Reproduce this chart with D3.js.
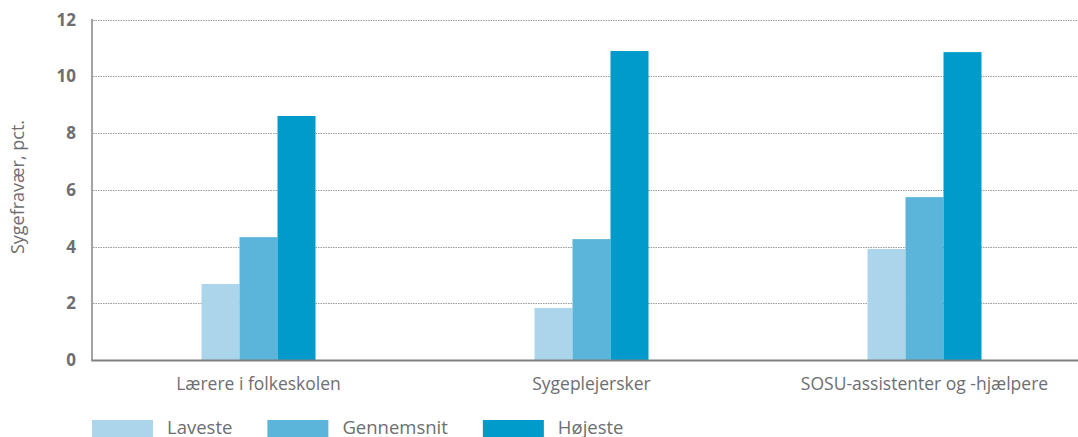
<!DOCTYPE html>
<html>
<head>
<meta charset="utf-8">
<script src="https://cdn.jsdelivr.net/npm/d3@7"></script>
<style>
  html, body { margin: 0; padding: 0; background: #fff; }
  svg { display: block; font-family: "Open Sans", "Noto Sans", sans-serif; }
</style>
</head>
<body>
<svg id="chart" width="1078" height="437"></svg>
<script>
// Sygefravær by occupation: lowest, average and highest municipality
const categories = ["Lærere i folkeskolen", "Sygeplejersker", "SOSU-assistenter og -hjælpere"];
const seriesNames = ["Laveste", "Gennemsnit", "Højeste"];
const laveste = [2.68, 1.83, 3.91];
const gennemsnit = [4.33, 4.26, 5.74];
const hoejeste = [8.6, 10.89, 10.85];
const yTicks = [0, 2, 4, 6, 8, 10, 12];
const yTitle = "Sygefravær, pct.";

const colors = ["#abd5ea", "#5bb4da", "#009bcb"];
const seriesValues = [laveste, gennemsnit, hoejeste];

const svg = d3.select("#chart");
const W = 1078;
const plotLeft = 92, plotTop = 19.5, plotBottom = 360, plotRight = 1091;

const x = d3.scaleBand().domain(categories).range([plotLeft, plotRight]);
const y = d3.scaleLinear().domain([0, 12]).range([plotBottom, plotTop]);
const barW = 38;
const inner = d3.scaleBand().domain(seriesNames)
  .range([-barW * 1.5, barW * 1.5]);

// dotted gridlines
svg.append("g").selectAll("line")
  .data(yTicks.filter(d => d > 0))
  .join("line")
  .attr("x1", plotLeft + 1).attr("x2", W)
  .attr("y1", d => Math.round(y(d)) + 0.5).attr("y2", d => Math.round(y(d)) + 0.5)
  .attr("stroke", "#9a9a9a").attr("stroke-width", 1)
  .attr("stroke-dasharray", "1.5,1");

// bars
const groups = svg.append("g").selectAll("g")
  .data(categories)
  .join("g")
  .attr("transform", d => `translate(${x(d) + x.bandwidth() / 2},0)`);

groups.selectAll("rect")
  .data((c, i) => seriesNames.map((s, j) => ({ s, v: seriesValues[j][i], j })))
  .join("rect")
  .attr("x", d => inner(d.s))
  .attr("width", inner.bandwidth())
  .attr("y", d => y(d.v))
  .attr("height", d => plotBottom - y(d.v))
  .attr("fill", d => colors[d.j]);

// axis lines
svg.append("line")
  .attr("x1", plotLeft).attr("x2", plotLeft)
  .attr("y1", plotTop - 0.5).attr("y2", plotBottom)
  .attr("stroke", "#858585").attr("stroke-width", 1.5);
svg.append("line")
  .attr("x1", plotLeft - 0.75).attr("x2", W)
  .attr("y1", plotBottom + 0.5).attr("y2", plotBottom + 0.5)
  .attr("stroke", "#808080").attr("stroke-width", 2);

// y tick labels
svg.append("g").selectAll("text")
  .data(yTicks)
  .join("text")
  .attr("x", 76)
  .attr("y", d => y(d))
  .attr("dy", "0.36em")
  .attr("text-anchor", "end")
  .attr("font-size", 17)
  .attr("font-weight", "bold")
  .attr("fill", "#6d6e71")
  .text(d => d);

// y title
svg.append("text")
  .attr("transform", "translate(24,187) rotate(-90)")
  .attr("text-anchor", "middle")
  .attr("font-size", 18)
  .attr("fill", "#6d6e71")
  .text(yTitle);

// category labels
svg.append("g").selectAll("text")
  .data(categories)
  .join("text")
  .attr("x", d => x(d) + x.bandwidth() / 2)
  .attr("y", 390)
  .attr("text-anchor", "middle")
  .attr("font-size", 17.5)
  .attr("fill", "#6d6e71")
  .text(d => d);

// legend
const legend = svg.append("g");
let lx = 92;
seriesNames.forEach((name, i) => {
  legend.append("rect")
    .attr("x", lx).attr("y", 420)
    .attr("width", 61).attr("height", 17)
    .attr("fill", colors[i]);
  const t = legend.append("text")
    .attr("x", lx + 75).attr("y", 434)
    .attr("font-size", 18.5)
    .attr("fill", "#6d6e71")
    .text(name);
  lx = lx + 75 + t.node().getComputedTextLength() + 35;
});
</script>
</body>
</html>
